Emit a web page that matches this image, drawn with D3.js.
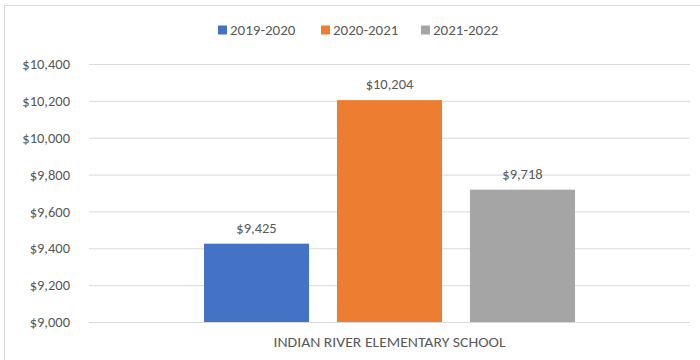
<!DOCTYPE html>
<html>
<head>
<meta charset="utf-8">
<script src="https://cdn.jsdelivr.net/npm/d3@7"></script>
<style>
  body { margin: 0; background: #fff; }
  text { font-family: Calibri, Carlito, "Open Sans", sans-serif; fill: #595959; }
</style>
</head>
<body>
<div id="chart"></div>
<script>
const categories = ["INDIAN RIVER ELEMENTARY SCHOOL"];
const seriesNames = ["2019-2020", "2020-2021", "2021-2022"];
const seriesValues = [9425, 10204, 9718];
const seriesColors = ["#4472c4", "#ed7d31", "#a5a5a5"];
const yTicks = [9000, 9200, 9400, 9600, 9800, 10000, 10200, 10400];

const fullW = 700, fullH = 360;
const margin = { top: 64, right: 10, bottom: 38, left: 89 };
const width = fullW - margin.left - margin.right;
const height = fullH - margin.top - margin.bottom;

const svg = d3.select("#chart").append("svg")
  .attr("width", fullW)
  .attr("height", fullH);

// chart frame
svg.append("rect")
  .attr("x", 4.5).attr("y", 5.5)
  .attr("width", fullW + 10).attr("height", fullH + 10)
  .attr("fill", "none")
  .attr("stroke", "#d9d9d9");

const g = svg.append("g").attr("transform", `translate(${margin.left},${margin.top})`);

const y = d3.scaleLinear().domain([9000, 10400]).range([height, 0]);
const x0 = d3.scaleBand().domain(categories).range([0, width]);
const x1 = d3.scaleBand().domain(seriesNames)
  .range([115, width - 115])
  .paddingInner(0.21);

g.append("g")
  .call(d3.axisLeft(y).tickValues(yTicks).tickSize(-width).tickFormat(""))
  .call(a => a.select(".domain").remove())
  .call(a => a.selectAll("line").attr("stroke", "#d9d9d9"));

g.append("g")
  .call(d3.axisLeft(y).tickValues(yTicks).tickSize(0).tickPadding(19)
    .tickFormat(d => "$" + d3.format(",")(d)))
  .call(a => a.select(".domain").remove())
  .call(a => a.selectAll("text")
    .style("font-size", "14.5px")
    .attr("fill", "#595959"));

const cat = g.selectAll(".cat").data(categories).enter().append("g")
  .attr("transform", d => `translate(${x0(d)},0)`);

const data = seriesNames.map((s, i) => ({ name: s, value: seriesValues[i], color: seriesColors[i] }));

cat.selectAll("rect").data(data).enter().append("rect")
  .attr("x", d => x1(d.name))
  .attr("width", x1.bandwidth())
  .attr("y", d => y(d.value))
  .attr("height", d => height - y(d.value))
  .attr("fill", d => d.color);

cat.selectAll(".lbl").data(data).enter().append("text")
  .attr("class", "lbl")
  .attr("x", d => x1(d.name) + x1.bandwidth() / 2)
  .attr("y", d => y(d.value) - 11)
  .attr("text-anchor", "middle")
  .style("font-size", "14.5px")
  .text(d => "$" + d3.format(",")(d.value));

cat.append("text")
  .attr("x", x0.bandwidth() / 2)
  .attr("y", height + 25)
  .attr("text-anchor", "middle")
  .style("font-size", "14px")
  .attr("textLength", 232)
  .attr("lengthAdjust", "spacingAndGlyphs")
  .text(d => d);

// legend
const legend = svg.append("g").attr("transform", "translate(218,30)");
const legendX = [0, 103, 203];
seriesNames.forEach((s, i) => {
  const it = legend.append("g").attr("transform", `translate(${legendX[i]},0)`);
  it.append("rect").attr("x", 0).attr("y", -4.5).attr("width", 9).attr("height", 9).attr("fill", seriesColors[i]);
  it.append("text").attr("x", 12).attr("y", 5).style("font-size", "15px").text(s);
});
</script>
</body>
</html>
